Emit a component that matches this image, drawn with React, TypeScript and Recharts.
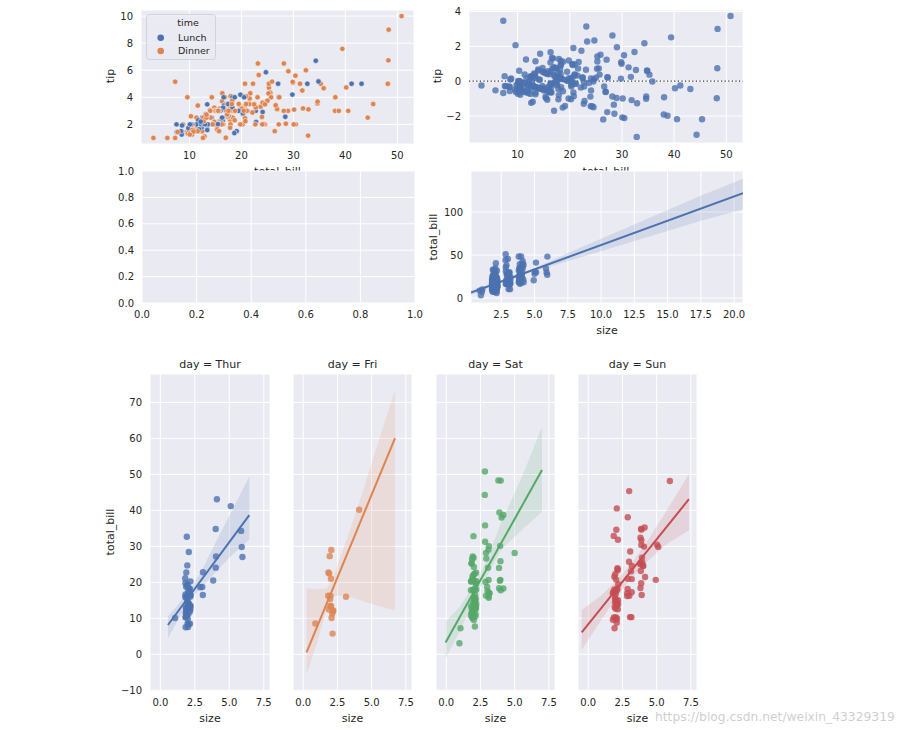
import React from "react";
import { ComposedChart, Scatter, Line, Area, XAxis, YAxis, CartesianGrid, ReferenceLine } from "recharts";

const W = 907;
const H = 737;
const BG = "#EAEAF2";
const INK = "#262626";
const FONT = "'DejaVu Sans', Verdana, sans-serif";
const BLUE = "#4C72B0";
const ORANGE = "#DD8452";

// seaborn "tips" dataset, rows in csv order
const totalBill = [
  16.99, 10.34, 21.01, 23.68, 24.59, 25.29, 8.77, 26.88, 15.04, 14.78,
  10.27, 35.26, 15.42, 18.43, 14.83, 21.58, 10.33, 16.29, 16.97, 20.65,
  17.92, 20.29, 15.77, 39.42, 19.82, 17.81, 13.37, 12.69, 21.7, 19.65,
  9.55, 18.35, 15.06, 20.69, 17.78, 24.06, 16.31, 16.93, 18.69, 31.27,
  16.04, 17.46, 13.94, 9.68, 30.4, 18.29, 22.23, 32.4, 28.55, 18.04,
  12.54, 10.29, 34.81, 9.94, 25.56, 19.49, 38.01, 26.41, 11.24, 48.27,
  20.29, 13.81, 11.02, 18.29, 17.59, 20.08, 16.45, 3.07, 20.23, 15.01,
  12.02, 17.07, 26.86, 25.28, 14.73, 10.51, 17.92, 27.2, 22.76, 17.29,
  19.44, 16.66, 10.07, 32.68, 15.98, 34.83, 13.03, 18.28, 24.71, 21.16,
  28.97, 22.49, 5.75, 16.32, 22.75, 40.17, 27.28, 12.03, 21.01, 12.46,
  11.35, 15.38, 44.3, 22.42, 20.92, 15.36, 20.49, 25.21, 18.24, 14.31,
  14.0, 7.25, 38.07, 23.95, 25.71, 17.31, 29.93, 10.65, 12.43, 24.08,
  11.69, 13.42, 14.26, 15.95, 12.48, 29.8, 8.52, 14.52, 11.38, 22.82,
  19.08, 20.27, 11.17, 12.26, 18.26, 8.51, 10.33, 14.15, 16.0, 13.16,
  17.47, 34.3, 41.19, 27.05, 16.43, 8.35, 18.64, 11.87, 9.78, 7.51,
  14.07, 13.13, 17.26, 24.55, 19.77, 29.85, 48.17, 25.0, 13.39, 16.49,
  21.5, 12.66, 16.21, 13.81, 17.51, 24.52, 20.76, 31.71, 10.59, 10.63,
  50.81, 15.81, 7.25, 31.85, 16.82, 32.9, 17.89, 14.48, 9.6, 34.63,
  34.65, 23.33, 45.35, 23.17, 40.55, 20.69, 20.9, 30.46, 18.15, 23.1,
  15.69, 19.81, 28.44, 15.48, 16.58, 7.56, 10.34, 43.11, 13.0, 13.51,
  18.71, 12.74, 13.0, 16.4, 20.53, 16.47, 26.59, 38.73, 24.27, 12.76,
  30.06, 25.89, 48.33, 13.27, 28.17, 12.9, 28.15, 11.59, 7.74, 30.14,
  12.16, 13.42, 8.58, 15.98, 13.42, 16.27, 10.09, 20.45, 13.28, 22.12,
  24.01, 15.69, 11.61, 10.77, 15.53, 10.07, 12.6, 32.83, 35.83, 29.03,
  27.18, 22.67, 17.82, 18.78,
];

const tip = [
  1.01, 1.66, 3.5, 3.31, 3.61, 4.71, 2.0, 3.12, 1.96, 3.23,
  1.71, 5.0, 1.57, 3.0, 3.02, 3.92, 1.67, 3.71, 3.5, 3.35,
  4.08, 2.75, 2.23, 7.58, 3.18, 2.34, 2.0, 2.0, 4.3, 3.0,
  1.45, 2.5, 3.0, 2.45, 3.27, 3.6, 2.0, 3.07, 2.31, 5.0,
  2.24, 2.54, 3.06, 1.32, 5.6, 3.0, 5.0, 6.0, 2.05, 3.0,
  2.5, 2.6, 5.2, 1.56, 4.34, 3.51, 3.0, 1.5, 1.76, 6.73,
  3.21, 2.0, 1.98, 3.76, 2.64, 3.15, 2.47, 1.0, 2.01, 2.09,
  1.97, 3.0, 3.14, 5.0, 2.2, 1.25, 3.08, 4.0, 3.0, 2.71,
  3.0, 3.4, 1.83, 5.0, 2.03, 5.17, 2.0, 4.0, 5.85, 3.0,
  3.0, 3.5, 1.0, 4.3, 3.25, 4.73, 4.0, 1.5, 3.0, 1.5,
  2.5, 3.0, 2.5, 3.48, 4.08, 1.64, 4.06, 4.29, 3.76, 4.0,
  3.0, 1.0, 4.0, 2.55, 4.0, 3.5, 5.07, 1.5, 1.8, 2.92,
  2.31, 1.68, 2.5, 2.0, 2.52, 4.2, 1.48, 2.0, 2.0, 2.18,
  1.5, 2.83, 1.5, 2.0, 3.25, 1.25, 2.0, 2.0, 2.0, 2.75,
  3.5, 6.7, 5.0, 5.0, 2.3, 1.5, 1.36, 1.63, 1.73, 2.0,
  2.5, 2.0, 2.74, 2.0, 2.0, 5.14, 5.0, 3.75, 2.61, 2.0,
  3.5, 2.5, 2.0, 2.0, 3.0, 3.48, 2.24, 4.5, 1.61, 2.0,
  10.0, 3.16, 5.15, 3.18, 4.0, 3.11, 2.0, 2.0, 4.0, 3.55,
  3.68, 5.65, 3.5, 6.5, 3.0, 5.0, 3.5, 2.0, 3.5, 4.0,
  1.5, 4.19, 2.56, 2.02, 4.0, 1.44, 2.0, 5.0, 2.0, 2.0,
  4.0, 2.01, 2.0, 2.5, 4.0, 3.23, 3.41, 3.0, 2.03, 2.23,
  2.0, 5.16, 9.0, 2.5, 6.5, 1.1, 3.0, 1.5, 1.44, 3.09,
  2.2, 3.48, 1.92, 3.0, 1.58, 2.5, 2.0, 3.0, 2.72, 2.88,
  2.0, 3.0, 3.39, 1.47, 3.0, 1.25, 1.0, 1.17, 4.67, 5.92,
  2.0, 2.0, 1.75, 3.0,
];

const partySize = [
  2, 3, 3, 2, 4, 4, 2, 4, 2, 2,
  2, 4, 2, 4, 2, 2, 3, 3, 3, 3,
  2, 2, 2, 4, 2, 4, 2, 2, 2, 2,
  2, 4, 2, 4, 2, 3, 3, 3, 3, 3,
  3, 2, 2, 2, 4, 2, 2, 4, 3, 2,
  2, 2, 4, 2, 4, 2, 4, 2, 2, 4,
  2, 2, 2, 4, 3, 3, 2, 1, 2, 2,
  2, 3, 2, 2, 2, 2, 2, 4, 2, 2,
  2, 2, 1, 2, 2, 4, 2, 2, 2, 2,
  2, 2, 2, 2, 2, 4, 2, 2, 2, 2,
  2, 2, 3, 2, 2, 2, 2, 2, 2, 2,
  2, 1, 3, 2, 3, 2, 4, 2, 2, 4,
  2, 2, 2, 2, 2, 6, 2, 2, 2, 3,
  2, 2, 2, 2, 2, 2, 2, 2, 2, 2,
  2, 6, 5, 6, 2, 2, 3, 2, 2, 2,
  2, 2, 3, 4, 4, 5, 6, 4, 2, 4,
  4, 2, 3, 2, 2, 3, 2, 4, 2, 2,
  3, 2, 2, 2, 2, 2, 2, 2, 2, 2,
  4, 2, 3, 4, 2, 5, 3, 5, 3, 3,
  2, 2, 2, 2, 2, 2, 2, 4, 2, 2,
  3, 2, 2, 2, 4, 3, 3, 4, 2, 2,
  3, 4, 4, 2, 3, 2, 5, 2, 2, 4,
  2, 2, 1, 3, 2, 2, 2, 4, 2, 2,
  4, 3, 2, 2, 2, 2, 2, 2, 3, 3,
  2, 2, 2, 2,
];

// day and time come in runs of consecutive rows
const runDay = ["Sun", "Sat", "Sun", "Sat", "Thur", "Fri", "Sat", "Sun", "Thur", "Sun", "Sat", "Sun", "Thur", "Sat", "Fri", "Sat", "Thur"];
const runTime = ["Dinner", "Dinner", "Dinner", "Dinner", "Lunch", "Dinner", "Dinner", "Dinner", "Lunch", "Dinner", "Dinner", "Dinner", "Lunch", "Dinner", "Lunch", "Dinner", "Dinner"];
const runLength = [19, 22, 15, 21, 13, 12, 10, 5, 33, 18, 4, 19, 15, 14, 7, 16, 1];

const dayNames = ["Thur", "Fri", "Sat", "Sun"];
const dayColors = ["#4C72B0", "#DD8452", "#55A868", "#C44E52"];

// regression line + CI band of size vs total_bill (all rows)
const allFitX = [0.22, 20.67];
const allFitY = [6.3, 122];
const allBandX = [0.22, 2.6, 5, 7.5, 10, 12.5, 15, 17.5, 20.67];
const allBandLo = [3.6, 18.9, 31.6, 42.7, 54.5, 66.2, 78, 89.8, 102.8];
const allBandHi = [9.0, 20.8, 35.0, 52.2, 69.0, 85.6, 102.4, 118.8, 138.8];

const dayFitX = [[0.55, 6.45], [0.24, 6.71], [-0.05, 7.0], [-0.48, 7.36]];
const dayFitY = [[8.15, 38.7], [0.56, 60.1], [3.3, 51.2], [6.1, 43.1]];
const dayBandX = [
  [0.55, 1.3, 2.1, 3.0, 4.0, 5.0, 6.45],
  [0.24, 1.0, 1.7, 2.1, 3.0, 4.0, 5.0, 6.71],
  [-0.05, 1.0, 2.3, 3.0, 4.0, 5.5, 7.0],
  [-0.48, 1.0, 2.0, 3.0, 4.0, 5.5, 7.36],
];
const dayBandLo = [
  [4.4, 9.7, 14.8, 18.6, 22.8, 26.8, 31.9],
  [-5.6, 3.0, 12.5, 16.0, 16.5, 15.2, 14.0, 12.2],
  [-1.1, 6.5, 17.4, 21.8, 29.0, 34.5, 39.6],
  [1.2, 9.8, 15.5, 20.5, 24.6, 30.0, 34.5],
];
const dayBandHi = [
  [10.6, 13.9, 17.6, 23.3, 31.0, 38.5, 49.4],
  [18.4, 18.0, 18.3, 20.5, 30.0, 41.1, 53.1, 73.5],
  [9.1, 13.2, 21.2, 26.5, 36.5, 49.0, 63.2],
  [12.3, 16.5, 20.3, 24.5, 29.6, 38.5, 50.1],
];

// axis ticks
const tlXTicks = [10, 20, 30, 40, 50];
const tlYTicks = [2, 4, 6, 8, 10];
const trYTicks = [-2, 0, 2, 4];
const unitTicks = [0, 0.2, 0.4, 0.6, 0.8, 1.0];
const mrXTicks = [2.5, 5, 7.5, 10, 12.5, 15, 17.5, 20];
const mrYTicks = [0, 50, 100];
const facetXTicks = [0, 2.5, 5, 7.5];
const facetYTicks = [-10, 0, 10, 20, 30, 40, 50, 60, 70];

// expand runs
const days: string[] = [];
const times: string[] = [];
runLength.forEach((n, k) => {
  for (let j = 0; j < n; j++) {
    days.push(runDay[k]);
    times.push(runTime[k]);
  }
});

// residplot: least squares of tip on total_bill
const nRows = totalBill.length;
const mBill = totalBill.reduce((a, b) => a + b, 0) / nRows;
const mTip = tip.reduce((a, b) => a + b, 0) / nRows;
let sxy = 0;
let sxx = 0;
totalBill.forEach((b, i) => {
  sxy += (b - mBill) * (tip[i] - mTip);
  sxx += (b - mBill) * (b - mBill);
});
const slope = sxy / sxx;
const icept = mTip - slope * mBill;

// x_jitter on party size (deterministic spread instead of random)
const SIZE_JITTER = 0.2;
const jitter = (i: number) => (((i * 0.6180339887) % 1) - 0.5) * 2 * SIZE_JITTER;

const minus = (v: number) => (v < 0 ? "\u2212" + Math.abs(v) : String(v));
const fixed1 = (v: number) => (v < 0 ? "\u2212" + Math.abs(v).toFixed(1) : v.toFixed(1));
const blank = () => "";

const tickStyle = { fill: INK, fontSize: 10, fontFamily: FONT };

type PanelProps = {
  box: number[];
  xDomain: number[];
  yDomain: number[];
  xTicks: number[];
  yTicks: number[];
  xFmt: (v: number) => string;
  yFmt: (v: number) => string;
  children?: React.ReactNode;
};

function Panel({ box, xDomain, yDomain, xTicks, yTicks, xFmt, yFmt, children }: PanelProps) {
  return (
    <div style={{ position: "absolute", left: 0, top: 0 }}>
      <ComposedChart
        width={W}
        height={H}
        margin={{ top: box[1], left: box[0] - 40, right: W - box[2], bottom: H - box[3] - 30 }}
      >
        <CartesianGrid fill={BG} fillOpacity={1} stroke="#FFFFFF" strokeWidth={1} />
        <XAxis
          type="number"
          dataKey="x"
          domain={xDomain}
          ticks={xTicks}
          interval={0}
          allowDataOverflow
          tickFormatter={xFmt}
          tickLine={false}
          axisLine={false}
          height={30}
          tick={tickStyle}
        />
        <YAxis
          type="number"
          domain={yDomain}
          ticks={yTicks}
          interval={0}
          allowDataOverflow
          tickFormatter={yFmt}
          tickLine={false}
          axisLine={false}
          width={40}
          tick={tickStyle}
        />
        {children}
      </ComposedChart>
    </div>
  );
}

function Text({ x, y, text, rotate, size = 11 }: { x: number; y: number; text: string; rotate?: boolean; size?: number }) {
  return (
    <div
      style={{
        position: "absolute",
        left: x,
        top: y,
        transform: `translate(-50%, -50%)${rotate ? " rotate(-90deg)" : ""}`,
        fontFamily: FONT,
        fontSize: size,
        color: INK,
        whiteSpace: "nowrap",
        lineHeight: 1,
      }}
    >
      {text}
    </div>
  );
}

const facetBoxes = [
  [150, 374, 270, 691],
  [293, 374, 412, 691],
  [436, 374, 555, 691],
  [578, 374, 697, 691],
];

export default function App() {
  const billTip = totalBill.map((b, i) => ({ x: b, y: tip[i], time: times[i] }));
  const resid = totalBill.map((b, i) => ({ x: b, y: tip[i] - (icept + slope * b) }));
  const sizeBill = totalBill.map((b, i) => ({ x: partySize[i] + jitter(i), y: b }));
  const allFit = allFitX.map((x, k) => ({ x, y: allFitY[k] }));
  const allBand = allBandX.map((x, k) => ({ x, band: [allBandLo[k], allBandHi[k]] }));

  return (
    <div style={{ position: "absolute", left: 0, top: 0, width: W, height: H, background: "#fff", overflow: "hidden" }}>
      {/* top left: scatter by time */}
      <Panel box={[141, 10, 414, 144]} xDomain={[0.68, 53.2]} yDomain={[0.55, 10.45]} xTicks={tlXTicks} yTicks={tlYTicks} xFmt={minus} yFmt={minus}>
        <Scatter
          data={billTip}
          dataKey="y"
          isAnimationActive={false}
          shape={(p: any) => (
            <circle cx={p.cx} cy={p.cy} r={2.7} fill={p.payload.time === "Lunch" ? BLUE : ORANGE} stroke="#FFFFFF" strokeWidth={0.5} />
          )}
        />
      </Panel>
      <svg style={{ position: "absolute", left: 146, top: 14 }} width={71} height={47}>
        <rect x={0.5} y={0.5} width={69} height={45} rx={3} fill={BG} fillOpacity={0.8} stroke="#D2D2DA" />
        <text x={42} y={12} textAnchor="middle" fontSize={9.5} fontFamily={FONT} fill={INK}>time</text>
        <circle cx={14.7} cy={23.7} r={3.3} fill={BLUE} />
        <text x={32} y={27} fontSize={9.5} fontFamily={FONT} fill={INK}>Lunch</text>
        <circle cx={14.7} cy={37} r={3.3} fill={ORANGE} />
        <text x={32} y={40.3} fontSize={9.5} fontFamily={FONT} fill={INK}>Dinner</text>
      </svg>

      {/* top right: residuals */}
      <Panel box={[469, 10, 743, 143]} xDomain={[0.68, 53.2]} yDomain={[-3.55, 4.09]} xTicks={tlXTicks} yTicks={trYTicks} xFmt={minus} yFmt={minus}>
        <Scatter
          data={resid}
          dataKey="y"
          isAnimationActive={false}
          shape={(p: any) => <circle cx={p.cx} cy={p.cy} r={3.2} fill={BLUE} fillOpacity={0.8} />}
        />
        <ReferenceLine y={0} stroke="#333333" strokeWidth={1.2} strokeDasharray="1.2 2.4" />
      </Panel>

      <Text x={110} y={76} text="tip" rotate />
      <Text x={277.5} y={170.5} text="total_bill" />
      <Text x={437} y={76} text="tip" rotate />
      <Text x={606} y={170.5} text="total_bill" />

      {/* middle left: empty axes */}
      <Panel box={[142, 171, 415, 303]} xDomain={[0, 1]} yDomain={[0, 1]} xTicks={unitTicks} yTicks={unitTicks} xFmt={fixed1} yFmt={fixed1}>
        <Scatter data={[]} dataKey="y" isAnimationActive={false} />
      </Panel>

      {/* middle right: regplot size vs total_bill */}
      <Panel box={[471, 171, 743, 303]} xDomain={[0.22, 20.67]} yDomain={[-5.8, 147.7]} xTicks={mrXTicks} yTicks={mrYTicks} xFmt={fixed1} yFmt={minus}>
        <Scatter
          data={sizeBill}
          dataKey="y"
          isAnimationActive={false}
          shape={(p: any) => <circle cx={p.cx} cy={p.cy} r={3.2} fill={BLUE} fillOpacity={0.8} />}
        />
        <Area data={allBand} dataKey="band" type="linear" stroke="none" fill={BLUE} fillOpacity={0.15} dot={false} activeDot={false} isAnimationActive={false} />
        <Line data={allFit} dataKey="y" type="linear" stroke={BLUE} strokeWidth={2} dot={false} activeDot={false} isAnimationActive={false} />
      </Panel>
      <Text x={433} y={237} text="total_bill" rotate />
      <Text x={607} y={330} text="size" />

      {/* bottom: lmplot faceted by day */}
      {dayNames.map((day, d) => {
        const color = dayColors[d];
        const pts: { x: number; y: number }[] = [];
        totalBill.forEach((b, i) => {
          if (days[i] === day) pts.push({ x: partySize[i] + jitter(i), y: b });
        });
        const fit = dayFitX[d].map((x, k) => ({ x, y: dayFitY[d][k] }));
        const band = dayBandX[d].map((x, k) => ({ x, band: [dayBandLo[d][k], dayBandHi[d][k]] }));
        const box = facetBoxes[d];
        return (
          <Panel
            key={day}
            box={box}
            xDomain={[-0.75, 7.95]}
            yDomain={[-10.2, 77.9]}
            xTicks={facetXTicks}
            yTicks={facetYTicks}
            xFmt={fixed1}
            yFmt={d === 0 ? minus : blank}
          >
            <Scatter
              data={pts}
              dataKey="y"
              isAnimationActive={false}
              shape={(p: any) => <circle cx={p.cx} cy={p.cy} r={3.2} fill={color} fillOpacity={0.8} />}
            />
            <Area data={band} dataKey="band" type="linear" stroke="none" fill={color} fillOpacity={0.15} dot={false} activeDot={false} isAnimationActive={false} />
            <Line data={fit} dataKey="y" type="linear" stroke={color} strokeWidth={2} dot={false} activeDot={false} isAnimationActive={false} />
          </Panel>
        );
      })}
      {dayNames.map((day, d) => {
        const box = facetBoxes[d];
        const cx = (box[0] + box[2]) / 2;
        return (
          <React.Fragment key={day}>
            <Text x={cx} y={364} text={`day = ${day}`} />
            <Text x={cx} y={718} text="size" />
          </React.Fragment>
        );
      })}
      <Text x={110} y={532} text="total_bill" rotate />
      <div
        style={{
          position: "absolute",
          left: 655,
          top: 711,
          fontFamily: FONT,
          fontSize: 12.3,
          color: "rgba(190,190,190,0.75)",
          whiteSpace: "nowrap",
          lineHeight: 1,
        }}
      >
        https://blog.csdn.net/weixin_43329319
      </div>
    </div>
  );
}
